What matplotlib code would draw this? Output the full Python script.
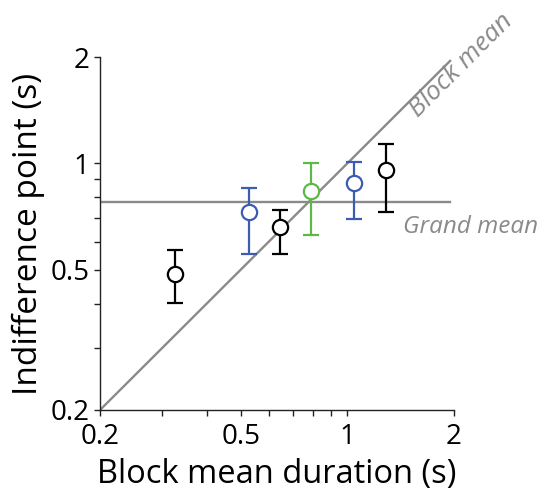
import matplotlib
matplotlib.use("Agg")
import matplotlib.pyplot as plt
from matplotlib.ticker import FixedLocator, NullFormatter, FixedFormatter

plt.rcParams['font.family'] = ['Open Sans', 'DejaVu Sans']

# data
block_mean = [0.326, 0.526, 0.645, 0.787, 1.044, 1.286]
indiff = [0.486, 0.726, 0.659, 0.836, 0.877, 0.957]
err_upper = [0.568, 0.851, 0.737, 1.000, 1.006, 1.136]
err_lower = [0.401, 0.553, 0.553, 0.628, 0.695, 0.726]
colors = ['black', '#3b5cb0', 'black', '#5cb947', '#3b5cb0', 'black']
grand_mean = 0.775
line_range = [0.2, 1.95]

x_major = [0.2, 0.5, 1, 2]
x_major_labels = ['0.2', '0.5', '1', '2']
minor_vals = [0.3, 0.4, 0.6, 0.7, 0.8, 0.9]

fig = plt.figure(figsize=(5.47, 4.96), dpi=100)
ax = fig.add_axes([100/547, 1-410/496, 354/547, 353/496])
ax.set_xscale('log')
ax.set_yscale('log')
ax.set_xlim(0.2, 2)
ax.set_ylim(0.2, 2)

grey = '#8a8a8a'
ax.plot(line_range, line_range, color=grey, lw=1.7, zorder=1)
ax.plot(line_range, [grand_mean, grand_mean], color=grey, lw=1.7, zorder=1)

for x, y, lo, hi, c in zip(block_mean, indiff, err_lower, err_upper, colors):
    ax.errorbar([x], [y], yerr=[[y - lo], [hi - y]], fmt='o', color=c,
                mfc='white', mec=c, ms=11, mew=1.6, elinewidth=1.6,
                capsize=5.5, capthick=1.6, zorder=3)

for axis in (ax.xaxis, ax.yaxis):
    axis.set_major_locator(FixedLocator(x_major))
    axis.set_major_formatter(FixedFormatter(x_major_labels))
    axis.set_minor_locator(FixedLocator(minor_vals))
    axis.set_minor_formatter(NullFormatter())

for s in ('top', 'right'):
    ax.spines[s].set_visible(False)
for s in ('left', 'bottom'):
    ax.spines[s].set_linewidth(1.0)
    ax.spines[s].set_color('#222222')
ax.tick_params(which='both', direction='out', length=4.5, width=1.0, color='#222222')
ax.tick_params(which='major', labelsize=20)
ax.tick_params(axis='x', which='major', pad=5)
ax.tick_params(axis='y', which='major', pad=3)

ax.set_xlabel('Block mean duration (s)', fontsize=23.5, labelpad=5)
ax.set_ylabel('Indifference point (s)', fontsize=24, labelpad=4)

ax.text(0.898, 0.827, 'Block mean', transform=ax.transAxes, rotation=45,
        rotation_mode='anchor', ha='left', va='baseline', fontsize=19,
        style='italic', color=grey, clip_on=False)
ax.text(0.857, 0.501, 'Grand mean', transform=ax.transAxes,
        ha='left', va='baseline', fontsize=17.5, style='italic', color=grey,
        clip_on=False)

fig.savefig('out.png', dpi=100)
